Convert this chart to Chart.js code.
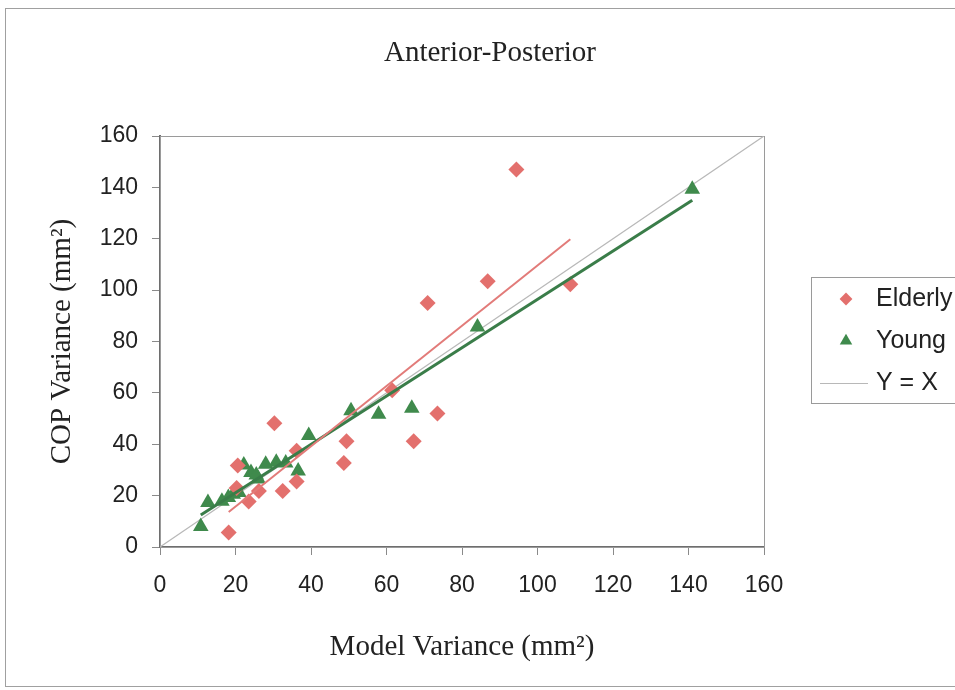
<!DOCTYPE html>
<html>
<head>
<meta charset="utf-8">
<title>Anterior-Posterior</title>
<script src="https://cdn.jsdelivr.net/npm/chart.js@4.4.1/dist/chart.umd.min.js"></script>
<style>
  html, body { margin: 0; padding: 0; background: #fff; }
  #wrap { width: 955px; height: 690px; }
</style>
</head>
<body>
<div id="wrap"><canvas id="apChart" width="955" height="690"></canvas></div>
<script>
// ---- data ----
// elderly subjects: model variance vs COP variance (mm^2)
const elderlyX = [94.4, 86.8, 70.9, 108.7, 61.5, 73.5, 67.2, 49.4, 48.7, 30.3, 36.2, 36.2, 32.5, 26.2, 23.5, 18.2, 20.6, 20.3]
const elderlyY = [147.0, 103.5, 95.0, 102.3, 61.0, 52.0, 41.2, 41.2, 32.7, 48.2, 25.5, 37.5, 21.8, 21.8, 17.7, 5.6, 31.7, 23.0]
// young subjects
const youngX = [141.0, 84.1, 66.7, 57.9, 50.6, 39.4, 36.6, 33.3, 30.8, 28.0, 26.0, 24.1, 22.2, 20.9, 19.4, 18.1, 16.4, 12.7, 10.8, 25.5]
const youngY = [139.3, 85.6, 54.0, 51.7, 53.0, 43.4, 29.6, 32.7, 33.0, 32.2, 26.5, 29.0, 31.9, 21.2, 20.5, 19.3, 17.8, 17.3, 8.0, 28.0]
// fitted lines (end points) and the identity line
const elderlyFitX = [18.2, 108.7]
const elderlyFitY = [13.6, 119.8]
const youngFitX = [10.8, 141.0]
const youngFitY = [12.5, 135.0]
const identityX = [0, 160]
const identityY = [0, 160]
// axis ticks
const AXIS_MIN = 0
const AXIS_MAX = 160
const AXIS_STEP = 20

// colours
const RED = '#e3706d'
const RED_LINE = '#e27b79'
const GREEN = '#3f8a4c'
const GREEN_LINE = '#3a7d49'
const GREY_LINE = '#b8b8b8'

const SERIF = "'Liberation Serif', 'Times New Roman', serif"
const SANS = "'Liberation Sans', Arial, sans-serif"

function toPoints(xs, ys){
    return xs.map((x, i) => ({x: x, y: ys[i]}))
}

// title, outer frame and plot-area box
const framePlugin = {
    id: 'frame',
    beforeDatasetsDraw(chart){
        const ctx = chart.ctx
        const a = chart.chartArea
        ctx.save()
        ctx.strokeStyle = '#9a9a9a'
        ctx.lineWidth = 1
        ctx.strokeRect(a.left + 0.5, a.top + 0.5, a.right - a.left, a.bottom - a.top)
        ctx.restore()
    },
    afterDraw(chart){
        const ctx = chart.ctx
        ctx.save()
        ctx.strokeStyle = '#a0a0a0'
        ctx.lineWidth = 1
        ctx.strokeRect(5.5, 8.5, 970, 678)
        ctx.fillStyle = '#222'
        ctx.font = '29px ' + SERIF
        ctx.textAlign = 'center'
        ctx.textBaseline = 'middle'
        ctx.fillText('Anterior-Posterior', 490, 53)
        ctx.restore()
    }
}

// legend box on the right
const legendPlugin = {
    id: 'sideLegend',
    afterDraw(chart){
        const ctx = chart.ctx
        const box = {left: 811, top: 277, width: 160, height: 126}
        ctx.save()
        ctx.fillStyle = '#fff'
        ctx.fillRect(box.left, box.top, box.width, box.height)
        ctx.strokeStyle = '#9a9a9a'
        ctx.lineWidth = 1
        ctx.strokeRect(box.left + 0.5, box.top + 0.5, box.width, box.height)

        const rows = [
            {label: 'Elderly', ds: 0, y: 299},
            {label: 'Young', ds: 1, y: 341},
            {label: 'Y = X', ds: 4, y: 383},
        ]
        ctx.font = '25px ' + SANS
        ctx.textBaseline = 'middle'
        ctx.textAlign = 'left'
        rows.forEach(function(r){
            const d = chart.data.datasets[r.ds]
            if (d.showLine){
                ctx.strokeStyle = d.borderColor
                ctx.lineWidth = d.borderWidth
                ctx.beginPath()
                ctx.moveTo(820, r.y + 0.5)
                ctx.lineTo(868, r.y + 0.5)
                ctx.stroke()
            }
            else{
                ctx.fillStyle = d.backgroundColor
                ctx.strokeStyle = d.borderColor
                Chart.helpers.drawPoint(ctx, {
                    pointStyle: d.pointStyle,
                    radius: d.pointRadius * 0.8,
                    rotation: 0,
                    borderWidth: 0
                }, 846, r.y)
            }
            ctx.fillStyle = '#222'
            ctx.fillText(r.label, 876, r.y)
        })
        ctx.restore()
    }
}

const ctx = document.getElementById('apChart')
const apChart = new Chart(ctx, {
    type: 'scatter',
    data: {
        datasets: [
            {
                label: 'Elderly',
                data: toPoints(elderlyX, elderlyY),
                pointStyle: 'rectRot',
                pointRadius: 8,
                backgroundColor: RED,
                borderColor: RED,
                borderWidth: 0,
                order: 1
            },
            {
                label: 'Young',
                data: toPoints(youngX, youngY),
                pointStyle: 'triangle',
                pointRadius: 9,
                backgroundColor: GREEN,
                borderColor: GREEN,
                borderWidth: 0,
                order: 1
            },
            {
                label: 'Elderly fit',
                data: toPoints(elderlyFitX, elderlyFitY),
                showLine: true,
                pointRadius: 0,
                borderColor: RED_LINE,
                borderWidth: 2,
                order: 0
            },
            {
                label: 'Young fit',
                data: toPoints(youngFitX, youngFitY),
                showLine: true,
                pointRadius: 0,
                borderColor: GREEN_LINE,
                borderWidth: 3,
                order: 0
            },
            {
                label: 'Y = X',
                data: toPoints(identityX, identityY),
                showLine: true,
                pointRadius: 0,
                borderColor: GREY_LINE,
                borderWidth: 1.2,
                order: 2
            }
        ]
    },
    options: {
        responsive: false,
        animation: false,
        layout: {
            padding: {top: 136, left: 0, right: 191, bottom: 0}
        },
        plugins: {
            legend: {display: false},
            tooltip: {enabled: false}
        },
        scales: {
            x: {
                type: 'linear',
                min: AXIS_MIN,
                max: AXIS_MAX,
                afterFit: function(scale){ scale.height = 143 },
                ticks: {
                    stepSize: AXIS_STEP,
                    padding: 17,
                    color: '#222',
                    font: {family: SANS, size: 23}
                },
                grid: {
                    drawOnChartArea: false,
                    drawTicks: true,
                    tickLength: 8,
                    color: '#8a8a8a'
                },
                border: {display: true, color: '#6e6e6e', width: 2},
                title: {
                    display: true,
                    text: 'Model Variance (mm²)',
                    color: '#222',
                    font: {family: SERIF, size: 29},
                    padding: {top: 0, bottom: 25}
                }
            },
            y: {
                type: 'linear',
                min: AXIS_MIN,
                max: AXIS_MAX,
                afterFit: function(scale){ scale.width = 160 },
                ticks: {
                    stepSize: AXIS_STEP,
                    padding: 14,
                    color: '#222',
                    font: {family: SANS, size: 23}
                },
                grid: {
                    drawOnChartArea: false,
                    drawTicks: true,
                    tickLength: 8,
                    color: '#8a8a8a'
                },
                border: {display: true, color: '#6e6e6e', width: 2},
                title: {
                    display: true,
                    text: 'COP Variance (mm²)',
                    color: '#222',
                    font: {family: SERIF, size: 29},
                    padding: {top: 45, bottom: 0}
                }
            }
        }
    },
    plugins: [framePlugin, legendPlugin]
})
</script>
</body>
</html>
